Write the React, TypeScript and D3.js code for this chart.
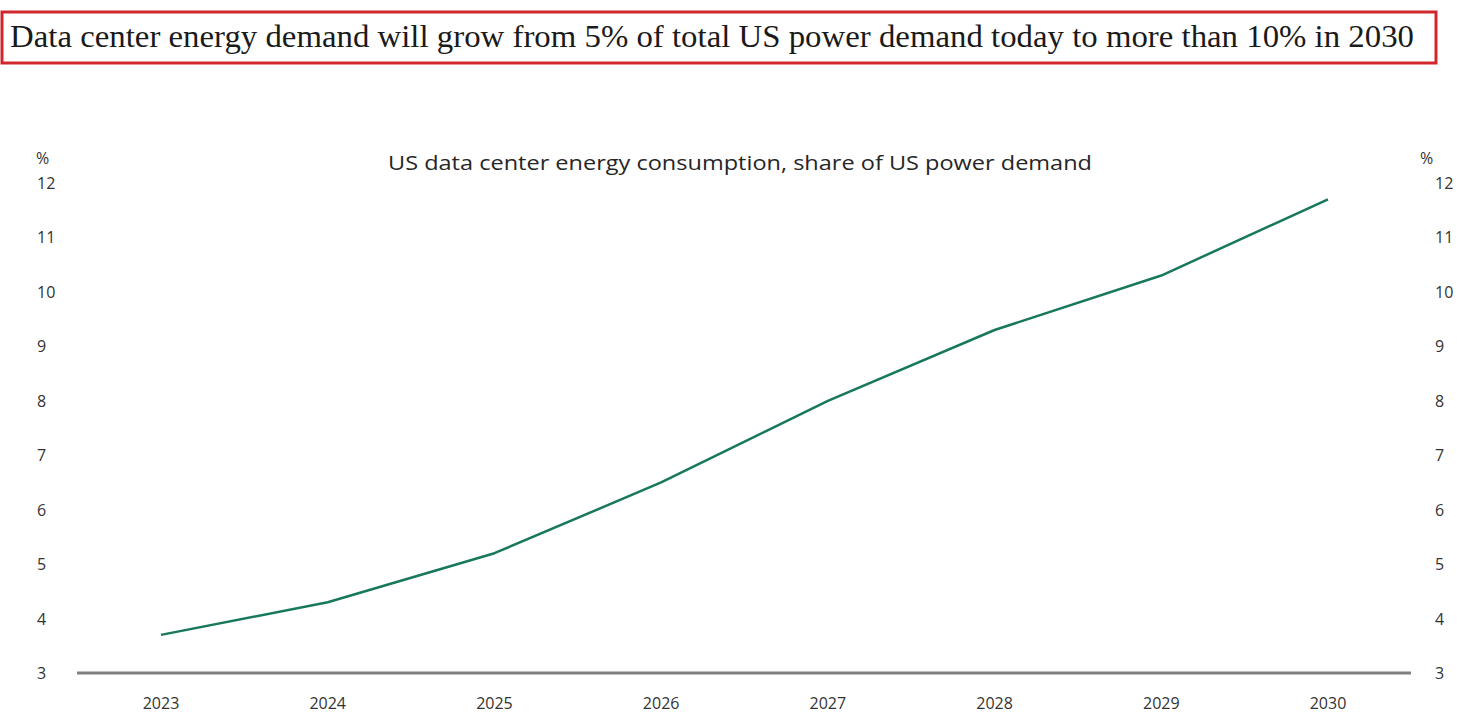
import React, { useEffect, useRef } from "react";
import { select, scaleLinear, scalePoint, line, range } from "d3";

const years = ["2023", "2024", "2025", "2026", "2027", "2028", "2029", "2030"];
const share = [3.7, 4.3, 5.2, 6.5, 8.0, 9.3, 10.3, 11.7];
const yTicks = range(3, 13);

const headline =
  "Data center energy demand will grow from 5% of  total US power demand today to more than 10% in 2030";
const subtitle = "US data center energy consumption, share of US power demand";

const W = 1476;
const H = 718;

function Chart() {
  const svgRef = useRef<SVGSVGElement>(null);

  useEffect(() => {
    const svg = select(svgRef.current);
    svg.selectAll("*").remove();

    const x = scalePoint<string>().domain(years).range([161, 1328]);
    const y = scaleLinear().domain([3, 12]).range([673, 183]);
    const tickFont = "'Open Sans', 'Noto Sans', sans-serif";

    // headline box
    svg
      .append("rect")
      .attr("x", 2)
      .attr("y", 12)
      .attr("width", 1434)
      .attr("height", 51)
      .attr("fill", "#fff")
      .attr("stroke", "#d0262c")
      .attr("stroke-width", 3);
    svg
      .append("text")
      .attr("x", 10)
      .attr("y", 47)
      .attr("font-family", "'Liberation Serif', 'DejaVu Serif', serif")
      .attr("font-size", 31)
      .attr("fill", "#1a1a1a")
      .attr("textLength", 1404)
      .attr("lengthAdjust", "spacingAndGlyphs")
      .text(headline);

    svg
      .append("text")
      .attr("x", 740)
      .attr("y", 170)
      .attr("text-anchor", "middle")
      .attr("font-family", tickFont)
      .attr("font-size", 20)
      .attr("fill", "#262626")
      .attr("textLength", 704)
      .attr("lengthAdjust", "spacingAndGlyphs")
      .text(subtitle);

    // y labels on both sides
    const g = svg.append("g").attr("font-family", tickFont).attr("font-size", 16).attr("fill", "#333");
    g.append("text").attr("x", 36).attr("y", 164).text("%");
    g.append("text").attr("x", 1420).attr("y", 164).text("%");
    g.selectAll("text.yl")
      .data(yTicks)
      .enter()
      .append("text")
      .attr("class", "yl")
      .attr("x", 37)
      .attr("y", (d) => y(d) + 6)
      .text((d) => String(d));
    g.selectAll("text.yr")
      .data(yTicks)
      .enter()
      .append("text")
      .attr("class", "yr")
      .attr("x", 1435)
      .attr("y", (d) => y(d) + 6)
      .text((d) => String(d));

    // x axis
    svg
      .append("line")
      .attr("x1", 77)
      .attr("x2", 1411)
      .attr("y1", y(3))
      .attr("y2", y(3))
      .attr("stroke", "#808080")
      .attr("stroke-width", 3);
    g.selectAll("text.xl")
      .data(years)
      .enter()
      .append("text")
      .attr("class", "xl")
      .attr("x", (d) => x(d) as number)
      .attr("y", 709)
      .attr("text-anchor", "middle")
      .text((d) => d);

    const path = line<number>()
      .x((_, i) => x(years[i]) as number)
      .y((d) => y(d));

    svg
      .append("path")
      .datum(share)
      .attr("fill", "none")
      .attr("stroke", "#17785c")
      .attr("stroke-width", 2.5)
      .attr("stroke-linejoin", "round")
      .attr("d", path);
  }, []);

  return <svg width={W} height={H} ref={svgRef}></svg>;
}

export default function App() {
  return (
    <div style={{ position: "absolute", left: 0, top: 0, background: "#fff" }}>
      <Chart />
    </div>
  );
}
